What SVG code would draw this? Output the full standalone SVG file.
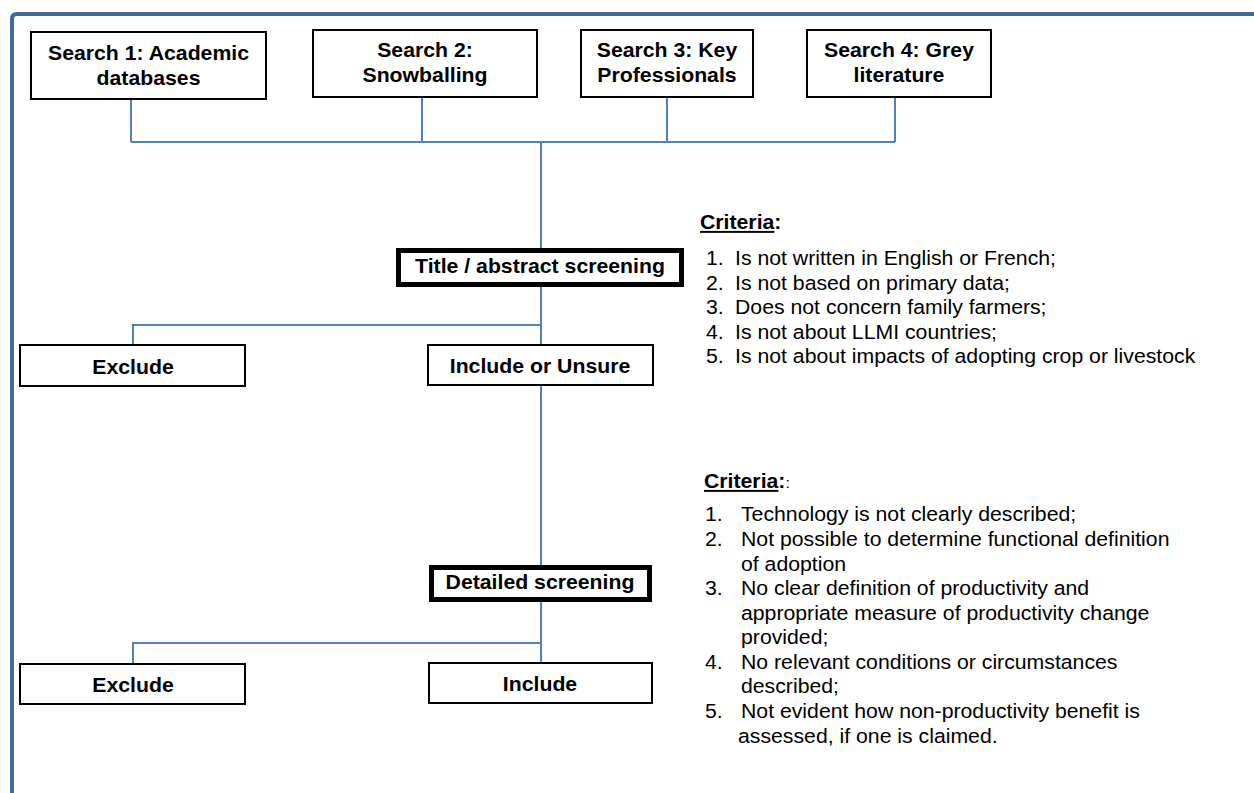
<svg xmlns="http://www.w3.org/2000/svg" width="1254" height="793" viewBox="0 0 1254 793">
<style>
.box{fill:#fff;stroke:#000;stroke-width:2}
.thick{fill:#fff;stroke:#000;stroke-width:5}
.b{font-family:"Liberation Sans",Arial,sans-serif;font-weight:bold;font-size:19.5px;text-anchor:middle;fill:#000}
.r{font-family:"Liberation Sans",Arial,sans-serif;font-size:19.5px;fill:#000}
.h{font-family:"Liberation Sans",Arial,sans-serif;font-size:19.5px;font-weight:bold;fill:#000}
.conn{fill:none;stroke:#4f81bd;stroke-width:2}
</style>
<rect width="1254" height="793" fill="#fff"/>
<path d="M12 800 V19 Q12 14 17 14 H1260" fill="none" stroke="#41689c" stroke-width="4"/>
<g id="connectors" class="conn">
<path d="M131 99 V142 M422 97 V142 M667 97 V142 M895 97 V142 M131 142 H895"/>
<path d="M541 142 V249"/>
<path d="M541 287 V346 M541 325 H133 V345"/>
<path d="M541 386 V565"/>
<path d="M541 601 V663 M541 643 H133 V664"/>
</g>
<g id="search1"><rect class="box" x="31" y="32" width="235" height="67"/>
<text class="b" transform="translate(148.5 60) scale(1.09 1)">Search 1: Academic</text>
<text class="b" transform="translate(148.5 85) scale(1.09 1)">databases</text></g>
<g id="search2"><rect class="box" x="313" y="30" width="224" height="67"/>
<text class="b" transform="translate(425 57) scale(1.09 1)">Search 2:</text>
<text class="b" transform="translate(425 82) scale(1.09 1)">Snowballing</text></g>
<g id="search3"><rect class="box" x="581" y="30" width="172" height="67"/>
<text class="b" transform="translate(667 57) scale(1.09 1)">Search 3: Key</text>
<text class="b" transform="translate(667 82) scale(1.09 1)">Professionals</text></g>
<g id="search4"><rect class="box" x="807" y="30" width="184" height="67"/>
<text class="b" transform="translate(899 57) scale(1.09 1)">Search 4: Grey</text>
<text class="b" transform="translate(899 82) scale(1.09 1)">literature</text></g>
<g id="title-screening"><rect class="thick" x="398.5" y="250.5" width="283" height="34"/>
<text class="b" transform="translate(540 273) scale(1.09 1)">Title / abstract screening</text></g>
<g id="exclude1"><rect class="box" x="20" y="345" width="225" height="41"/>
<text class="b" transform="translate(133 374) scale(1.09 1)">Exclude</text></g>
<g id="include-unsure"><rect class="box" x="428" y="345" width="225" height="40"/>
<text class="b" transform="translate(540 373) scale(1.09 1)">Include or Unsure</text></g>
<g id="detailed-screening"><rect class="thick" x="431.5" y="567.5" width="218" height="32"/>
<text class="b" transform="translate(540 589) scale(1.09 1)">Detailed screening</text></g>
<g id="exclude2"><rect class="box" x="20" y="664" width="225" height="40"/>
<text class="b" transform="translate(133 692) scale(1.09 1)">Exclude</text></g>
<g id="include"><rect class="box" x="429" y="663" width="223" height="40"/>
<text class="b" transform="translate(540 691) scale(1.09 1)">Include</text></g>
<g id="criteria1">
<text class="h" transform="translate(700 229) scale(1.09 1)"><tspan text-decoration="underline">Criteria</tspan>:</text>
<text class="r" transform="translate(706 265) scale(1.09 1)">1.</text><text class="r" transform="translate(735 265) scale(1.09 1)">Is not written in English or French;</text>
<text class="r" transform="translate(706 289.5) scale(1.09 1)">2.</text><text class="r" transform="translate(735 289.5) scale(1.09 1)">Is not based on primary data;</text>
<text class="r" transform="translate(706 314) scale(1.09 1)">3.</text><text class="r" transform="translate(735 314) scale(1.09 1)">Does not concern family farmers;</text>
<text class="r" transform="translate(706 338.5) scale(1.09 1)">4.</text><text class="r" transform="translate(735 338.5) scale(1.09 1)">Is not about LLMI countries;</text>
<text class="r" transform="translate(706 363) scale(1.09 1)">5.</text><text class="r" transform="translate(735 363) scale(1.09 1)">Is not about impacts of adopting crop or livestock</text>
</g>
<g id="criteria2">
<text class="h" transform="translate(704 488) scale(1.09 1)"><tspan text-decoration="underline">Criteria</tspan>:<tspan font-weight="normal" font-size="15">:</tspan></text>
<text class="r" transform="translate(705 521) scale(1.09 1)">1.</text><text class="r" transform="translate(741 521) scale(1.09 1)">Technology is not clearly described;</text>
<text class="r" transform="translate(705 546) scale(1.09 1)">2.</text><text class="r" transform="translate(741 546) scale(1.09 1)">Not possible to determine functional definition</text>
<text class="r" transform="translate(741 570.5) scale(1.09 1)">of adoption</text>
<text class="r" transform="translate(705 595) scale(1.09 1)">3.</text><text class="r" transform="translate(741 595) scale(1.09 1)">No clear definition of productivity and</text>
<text class="r" transform="translate(741 619.5) scale(1.09 1)">appropriate measure of productivity change</text>
<text class="r" transform="translate(741 644) scale(1.09 1)">provided;</text>
<text class="r" transform="translate(705 669) scale(1.09 1)">4.</text><text class="r" transform="translate(741 669) scale(1.09 1)">No relevant conditions or circumstances</text>
<text class="r" transform="translate(741 693) scale(1.09 1)">described;</text>
<text class="r" transform="translate(705 718) scale(1.09 1)">5.</text><text class="r" transform="translate(741 718) scale(1.09 1)">Not evident how non-productivity benefit is</text>
<text class="r" transform="translate(738 742.5) scale(1.09 1)">assessed, if one is claimed.</text>
</g>
</svg>
